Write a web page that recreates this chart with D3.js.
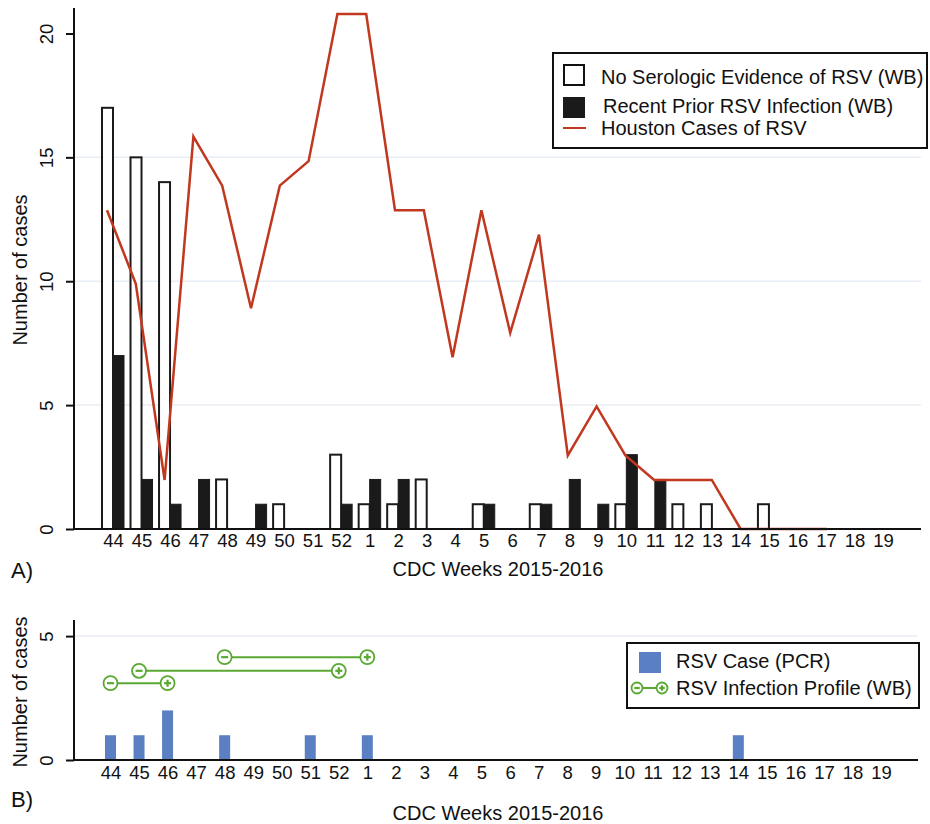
<!DOCTYPE html>
<html>
<head>
<meta charset="utf-8">
<script src="https://cdn.jsdelivr.net/npm/d3@7"></script>
<style>
  body { margin: 0; background: #fff; }
  text { font-family: "Liberation Sans", Arial, sans-serif; fill: #111; }
</style>
</head>
<body>
<script>
// CDC weeks 2015-2016
const weeks = ['44', '45', '46', '47', '48', '49', '50', '51', '52',
  '1', '2', '3', '4', '5', '6', '7', '8', '9', '10', '11', '12', '13',
  '14', '15', '16', '17', '18', '19'];

// panel A
const noEvidence = [17, 15, 14, 0, 2, 0, 1, 0, 3, 1, 1, 2, 0, 1, 0, 1, 0, 0, 1, 0, 1, 1, 0, 1, 0, 0, 0, 0];
const recentPrior = [7, 2, 1, 2, 0, 1, 0, 0, 1, 2, 2, 0, 0, 1, 0, 1, 2, 1, 3, 2, 0, 0, 0, 0, 0, 0, 0, 0];
const houstonWeeks = weeks.slice(0, 26); // 44 .. 17
const houston = [13, 10, 2, 16, 14, 9, 14, 15, 21, 21, 13, 13, 7, 13, 8, 12, 3, 5, 3, 2, 2, 2, 0, 0, 0, 0];
const ticksA = [0, 5, 10, 15, 20];

// panel B
const pcrCases = [1, 1, 2, 0, 1, 0, 0, 1, 0, 1, 0, 0, 0, 0, 0, 0, 0, 0, 0, 0, 0, 0, 1, 0, 0, 0, 0, 0];
const profileStart = ['44', '45', '48'];
const profileEnd = ['46', '52', '1'];
const profileLevel = [3.1, 3.6, 4.15];
const ticksB = [0, 5];

const red = '#c0381f';
const green = '#58a831';
const blue = '#5b7fc3';
const grid = '#e8eef5';
const font = '"Liberation Sans", Arial, sans-serif';

const svg = d3.select('body').append('svg')
  .attr('width', 930)
  .attr('height', 824);

const left = 74;

// ---------- panel A ----------
const xA = d3.scalePoint().domain(weeks).range([113, 883]);
const xLine = d3.scalePoint().domain(weeks).range([107, 884.6]);
const yA = d3.scaleLinear().domain([0, 21]).range([529, 8.7]);
// the Houston line sits on a slightly shorter scale in the figure
const yLine = d3.scaleLinear().domain([0, 21]).range([529, 14]);

const gA = svg.append('g');

gA.selectAll('line.grid')
  .data([5, 10, 15])
  .enter()
  .append('line')
  .attr('class', 'grid')
  .attr('x1', left).attr('x2', 921)
  .attr('y1', (d) => yA(d)).attr('y2', (d) => yA(d))
  .attr('stroke', grid)
  .attr('stroke-width', 1.5);

const barW = 11;

gA.selectAll('rect.open')
  .data(weeks.map((w, i) => ({ w, v: noEvidence[i] })).filter((d) => d.v > 0))
  .enter()
  .append('rect')
  .attr('class', 'open')
  .attr('x', (d) => xA(d.w) - barW)
  .attr('y', (d) => yA(d.v))
  .attr('width', barW)
  .attr('height', (d) => yA(0) - yA(d.v))
  .attr('fill', '#fff')
  .attr('stroke', '#1a1a1a')
  .attr('stroke-width', 2);

gA.selectAll('rect.filled')
  .data(weeks.map((w, i) => ({ w, v: recentPrior[i] })).filter((d) => d.v > 0))
  .enter()
  .append('rect')
  .attr('class', 'filled')
  .attr('x', (d) => xA(d.w))
  .attr('y', (d) => yA(d.v))
  .attr('width', barW)
  .attr('height', (d) => yA(0) - yA(d.v))
  .attr('fill', '#1a1a1a')
  .attr('stroke', '#1a1a1a')
  .attr('stroke-width', 1);

const line = d3.line()
  .x((d, i) => xLine(houstonWeeks[i]))
  .y((d) => yLine(d));

gA.append('path')
  .datum(houston)
  .attr('d', line)
  .attr('fill', 'none')
  .attr('stroke', red)
  .attr('stroke-width', 2.5)
  .attr('stroke-linejoin', 'miter');

// axes A
const axA = gA.append('g')
  .attr('transform', `translate(${left},0)`)
  .call(d3.axisLeft(yA).tickValues(ticksA).tickSize(8));
axA.select('.domain').remove();
axA.selectAll('.tick line').attr('stroke', '#111').attr('stroke-width', 2);
axA.selectAll('.tick text')
  .attr('x', 0).attr('dy', 0)
  .attr('text-anchor', 'middle')
  .attr('transform', 'translate(-21,0) rotate(-90)')
  .style('font-size', '18.5px')
  .style('font-family', font);

gA.append('line')
  .attr('x1', left).attr('x2', left)
  .attr('y1', 8).attr('y2', yA(0))
  .attr('stroke', '#111').attr('stroke-width', 2);

const axAx = gA.append('g')
  .attr('transform', `translate(0,${yA(0)})`)
  .call(d3.axisBottom(xA).tickSize(0));
axAx.select('.domain').remove();
axAx.selectAll('.tick text')
  .attr('y', 18).attr('dy', 0)
  .style('font-size', '18.5px')
  .style('font-family', font);

gA.append('line')
  .attr('x1', left - 1).attr('x2', 921)
  .attr('y1', yA(0)).attr('y2', yA(0))
  .attr('stroke', '#111').attr('stroke-width', 2);

gA.append('text')
  .attr('transform', 'translate(27,270) rotate(-90)')
  .attr('text-anchor', 'middle')
  .style('font-size', '20px')
  .text('Number of cases');

gA.append('text')
  .attr('x', 498).attr('y', 576)
  .attr('text-anchor', 'middle')
  .style('font-size', '20px')
  .text('CDC Weeks 2015-2016');

gA.append('text')
  .attr('x', 11).attr('y', 578)
  .style('font-size', '22px')
  .text('A)');

// legend A
const legA = gA.append('g');
legA.append('rect')
  .attr('x', 553).attr('y', 53)
  .attr('width', 374).attr('height', 95)
  .attr('fill', '#fff')
  .attr('stroke', '#111')
  .attr('stroke-width', 2);
legA.append('rect')
  .attr('x', 564).attr('y', 65).attr('width', 20).attr('height', 20)
  .attr('fill', '#fff').attr('stroke', '#111').attr('stroke-width', 2);
legA.append('rect')
  .attr('x', 563).attr('y', 97).attr('width', 22).attr('height', 21)
  .attr('fill', '#1a1a1a');
legA.append('line')
  .attr('x1', 563).attr('x2', 586).attr('y1', 128).attr('y2', 128)
  .attr('stroke', red).attr('stroke-width', 2);
const legTextA = ['No Serologic Evidence of RSV (WB)', 'Recent Prior RSV Infection (WB)', 'Houston Cases of RSV'];
legA.selectAll('text')
  .data(legTextA)
  .enter()
  .append('text')
  .attr('x', (d, i) => (i === 1 ? 603 : 601))
  .attr('y', (d, i) => [84, 113, 135][i])
  .style('font-size', '20px')
  .text((d) => d);

// ---------- panel B ----------
const xB = d3.scalePoint().domain(weeks).range([110.5, 881]);
const yB = d3.scaleLinear().domain([0, 5.65]).range([760, 620]);

const gB = svg.append('g');

gB.append('line')
  .attr('x1', left).attr('x2', 918)
  .attr('y1', yB(5)).attr('y2', yB(5))
  .attr('stroke', grid).attr('stroke-width', 1.5);

gB.selectAll('rect.pcr')
  .data(weeks.map((w, i) => ({ w, v: pcrCases[i] })).filter((d) => d.v > 0))
  .enter()
  .append('rect')
  .attr('class', 'pcr')
  .attr('x', (d) => xB(d.w) - barW / 2)
  .attr('y', (d) => yB(d.v))
  .attr('width', barW)
  .attr('height', (d) => yB(0) - yB(d.v))
  .attr('fill', blue);

// infection profiles
const drawMarker = (g, cx, cy, r, plus) => {
  g.append('circle')
    .attr('cx', cx).attr('cy', cy).attr('r', r)
    .attr('fill', '#fff')
    .attr('stroke', green)
    .attr('stroke-width', 1.8);
  g.append('line')
    .attr('x1', cx - r * 0.5).attr('x2', cx + r * 0.5)
    .attr('y1', cy).attr('y2', cy)
    .attr('stroke', green).attr('stroke-width', 2.2);
  if (plus) {
    g.append('line')
      .attr('x1', cx).attr('x2', cx)
      .attr('y1', cy - r * 0.5).attr('y2', cy + r * 0.5)
      .attr('stroke', green).attr('stroke-width', 2.2);
  }
};

profileStart.forEach((s, i) => {
  const y = yB(profileLevel[i]);
  gB.append('line')
    .attr('x1', xB(s)).attr('x2', xB(profileEnd[i]))
    .attr('y1', y).attr('y2', y)
    .attr('stroke', green).attr('stroke-width', 2);
  drawMarker(gB, xB(s), y, 7, false);
  drawMarker(gB, xB(profileEnd[i]), y, 7, true);
});

// axes B
const axB = gB.append('g')
  .attr('transform', `translate(${left},0)`)
  .call(d3.axisLeft(yB).tickValues(ticksB).tickSize(8).tickFormat(d3.format('d')));
axB.select('.domain').remove();
axB.selectAll('.tick line').attr('stroke', '#111').attr('stroke-width', 2);
axB.selectAll('.tick text')
  .attr('x', 0).attr('dy', 0)
  .attr('text-anchor', 'middle')
  .attr('transform', 'translate(-21,0) rotate(-90)')
  .style('font-size', '18.5px')
  .style('font-family', font);

gB.append('line')
  .attr('x1', left).attr('x2', left)
  .attr('y1', 620).attr('y2', yB(0))
  .attr('stroke', '#111').attr('stroke-width', 2);

const axBx = gB.append('g')
  .attr('transform', `translate(0,${yB(0)})`)
  .call(d3.axisBottom(xB).tickSize(0));
axBx.select('.domain').remove();
axBx.selectAll('.tick text')
  .attr('y', 19).attr('dy', 0)
  .style('font-size', '18.5px')
  .style('font-family', font);

gB.append('line')
  .attr('x1', left - 1).attr('x2', 918)
  .attr('y1', yB(0)).attr('y2', yB(0))
  .attr('stroke', '#111').attr('stroke-width', 2);

gB.append('text')
  .attr('transform', 'translate(27,692) rotate(-90)')
  .attr('text-anchor', 'middle')
  .style('font-size', '20px')
  .text('Number of cases');

gB.append('text')
  .attr('x', 498).attr('y', 820)
  .attr('text-anchor', 'middle')
  .style('font-size', '20px')
  .text('CDC Weeks 2015-2016');

gB.append('text')
  .attr('x', 11).attr('y', 807)
  .style('font-size', '22px')
  .text('B)');

// legend B
const legB = gB.append('g');
legB.append('rect')
  .attr('x', 627).attr('y', 643)
  .attr('width', 292).attr('height', 65)
  .attr('fill', '#fff')
  .attr('stroke', '#111')
  .attr('stroke-width', 2);
legB.append('rect')
  .attr('x', 639).attr('y', 652).attr('width', 22).attr('height', 21)
  .attr('fill', blue);
legB.append('line')
  .attr('x1', 637).attr('x2', 662).attr('y1', 688).attr('y2', 688)
  .attr('stroke', green).attr('stroke-width', 2);
drawMarker(legB, 637, 688, 5.5, false);
drawMarker(legB, 662, 688, 5.5, true);
legB.selectAll('text.leg')
  .data(['RSV Case (PCR)', 'RSV Infection Profile (WB)'])
  .enter()
  .append('text')
  .attr('class', 'leg')
  .attr('x', 676)
  .attr('y', (d, i) => [668, 695][i])
  .style('font-size', '20px')
  .text((d) => d);
</script>
</body>
</html>
